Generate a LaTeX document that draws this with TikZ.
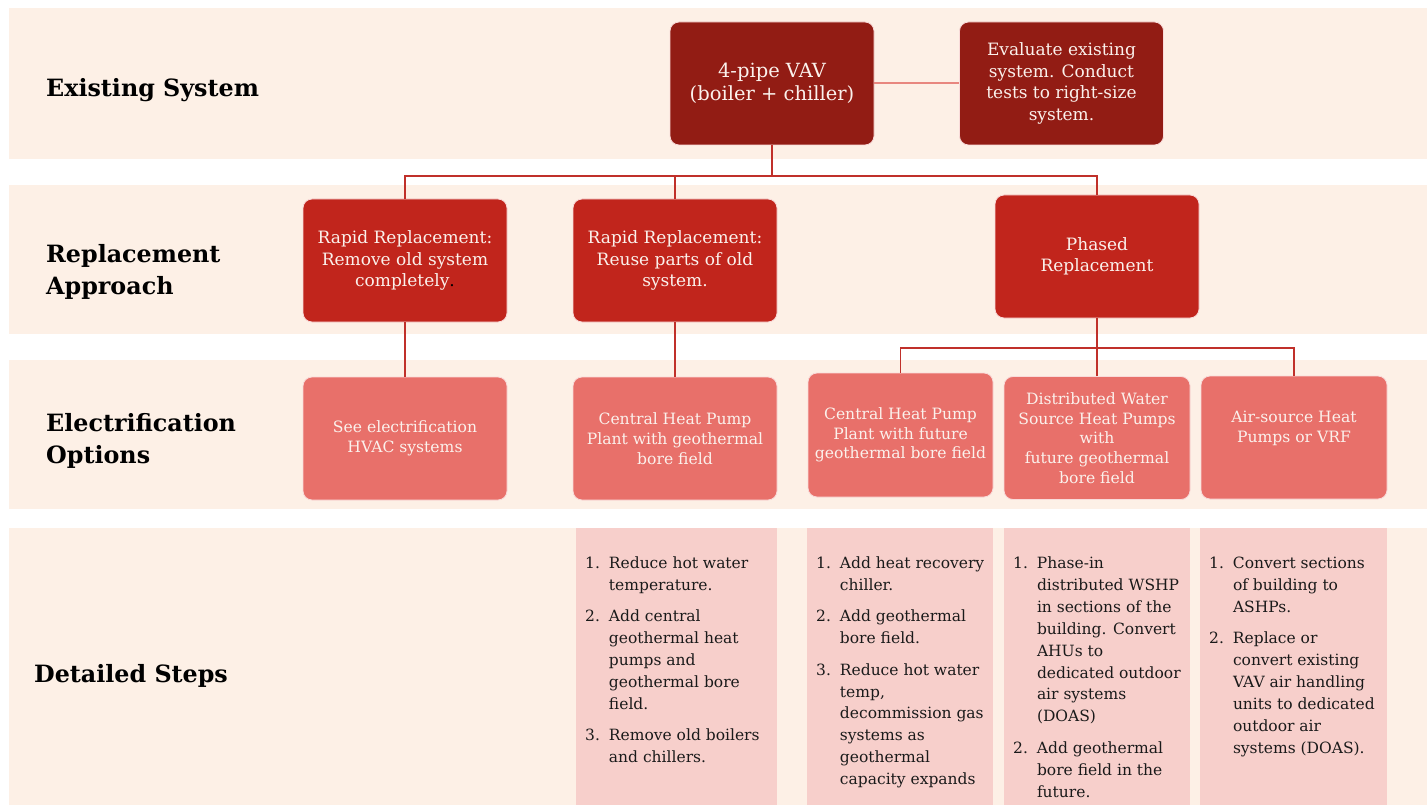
\documentclass[tikz,border=0pt]{standalone}
\usepackage{fontspec}
\setmainfont{DejaVu Serif}
\definecolor{bandc}{HTML}{FDF0E6}
\definecolor{boxd}{HTML}{921C14}
\definecolor{boxr}{HTML}{C1251C}
\definecolor{boxs}{HTML}{E8706A}
\definecolor{colp}{HTML}{F7CFCB}
\definecolor{linec}{HTML}{C0302A}
\definecolor{linel}{HTML}{E8877F}
\definecolor{txtw}{HTML}{FBF1EC}
\definecolor{txtd}{HTML}{1A1A1A}
\begin{document}
\begin{tikzpicture}[x=1pt,y=-1pt,
  band/.style={fill=bandc,draw=none},
  col/.style={fill=colp,draw=none},
  box/.style={rectangle,rounded corners=9pt,draw=white!75!boxs,line width=0.8pt,
    minimum width=204pt,minimum height=123pt,align=center,text=txtw,inner sep=0pt},
  dbox/.style={box,fill=boxd,font=\fontsize{17}{21.5}\selectfont},
  rbox/.style={box,fill=boxr,font=\fontsize{17}{21.5}\selectfont},
  sbox/.style={box,fill=boxs,font=\fontsize{15.6}{19.8}\selectfont},
  conn/.style={draw=linec,line width=1.7pt},
  connl/.style={draw=linel,line width=2pt},
  lbl/.style={anchor=west,align=left,text=black,font=\bfseries\fontsize{23.8}{32}\selectfont,inner sep=0pt},
  steps/.style={anchor=north west,inner sep=0pt,text=txtd,font=\fontsize{15.5}{21.9}\selectfont}
]
\useasboundingbox (0,0) rectangle (1427,805);
\fill[white] (0,0) rectangle (1427,805);
% bands
\fill[band] (9,8) rectangle (1427,159);
\fill[band] (9,185) rectangle (1427,334);
\fill[band] (9,360) rectangle (1427,509);
\fill[band] (9,528) rectangle (1427,805);
% detail columns
\fill[col] (576,528) rectangle (777,805);
\fill[col] (807,528) rectangle (993,805);
\fill[col] (1004,528) rectangle (1190,805);
\fill[col] (1200,528) rectangle (1387,805);

% row labels
\node[lbl] (l1) at (46,90) {Existing System};
\node[lbl] (l2) at (46,271.5) {Replacement\\Approach};
\node[lbl] (l3) at (46,440.5) {Electrification\\Options};
\node[lbl] (l4) at (34,676) {Detailed Steps};

% boxes
\node[dbox,font=\fontsize{19.5}{23}\selectfont] (vav) at (772,83.5) {4-pipe VAV\\(boiler + chiller)};
\node[dbox] (eval) at (1061.5,83.5) {Evaluate existing\\system. Conduct\\tests to right-size\\system.};
\node[rbox] (rr1) at (405,260.5) {Rapid Replacement:\\Remove old system\\completely\textcolor{black}{.}};
\node[rbox] (rr2) at (675,260.5) {Rapid Replacement:\\Reuse parts of old\\system.};
\node[rbox] (ph) at (1097,256.5) {Phased\\Replacement};
\node[sbox] (see) at (405,438.5) {See electrification\\HVAC systems};
\node[sbox] (chp1) at (675,438.5) {Central Heat Pump\\Plant with geothermal\\bore field};
\node[sbox,minimum width=185pt,minimum height=124pt] (chp2) at (900.5,435) {Central Heat Pump\\Plant with future\\geothermal bore field};
\node[sbox,minimum width=186pt] (dws) at (1097,438) {Distributed Water\\Source Heat Pumps\\with\\future geothermal\\bore field};
\node[sbox,minimum width=186pt] (as) at (1294,437.5) {};
\node[text=txtw,align=center,font=\fontsize{15.6}{19.8}\selectfont,inner sep=0pt] (ast) at (1294,428) {Air-source Heat\\Pumps or VRF};

\coordinate (bus) at (0,176);
\coordinate (bus2) at (0,348);

% steps
\node[steps] (s1) at (585,553) {\begin{tabular}{@{}r@{\hspace{9pt}}l@{}}
1. & Reduce hot water\\ & temperature.\\[9.5pt]
2. & Add central\\ & geothermal heat\\ & pumps and\\ & geothermal bore\\ & field.\\[9.5pt]
3. & Remove old boilers\\ & and chillers.
\end{tabular}};
\node[steps] (s2) at (816,553) {\begin{tabular}{@{}r@{\hspace{9pt}}l@{}}
1. & Add heat recovery\\ & chiller.\\[9.5pt]
2. & Add geothermal\\ & bore field.\\[9.5pt]
3. & Reduce hot water\\ & temp,\\ & decommission gas\\ & systems as\\ & geothermal\\ & capacity expands
\end{tabular}};
\node[steps] (s3) at (1013,553) {\begin{tabular}{@{}r@{\hspace{9pt}}l@{}}
1. & Phase-in\\ & distributed WSHP\\ & in sections of the\\ & building. Convert\\ & AHUs to\\ & dedicated outdoor\\ & air systems\\ & (DOAS)\\[9.5pt]
2. & Add geothermal\\ & bore field in the\\ & future.
\end{tabular}};
\node[steps] (s4) at (1209,553) {\begin{tabular}{@{}r@{\hspace{9pt}}l@{}}
1. & Convert sections\\ & of building to\\ & ASHPs.\\[9.5pt]
2. & Replace or\\ & convert existing\\ & VAV air handling\\ & units to dedicated\\ & outdoor air\\ & systems (DOAS).
\end{tabular}};

% connectors
\draw[connl] (vav.east) -- (eval.west);
\draw[conn] (vav.south) -- (vav.south |- bus);
\draw[conn] (rr1.north) -- (rr1.north |- bus) -- (ph.north |- bus) -- (ph.north);
\draw[conn] (rr2.north) -- (rr2.north |- bus);
\draw[conn] (rr1.south) -- (see.north);
\draw[conn] (rr2.south) -- (chp1.north);
\draw[conn] (ph.south) -- (ph.south |- bus2);
\draw[conn] (chp2.north) -- (chp2.north |- bus2) -- (as.north |- bus2) -- (as.north);
\draw[conn] (dws.north) -- (dws.north |- bus2);
\end{tikzpicture}
\end{document}
